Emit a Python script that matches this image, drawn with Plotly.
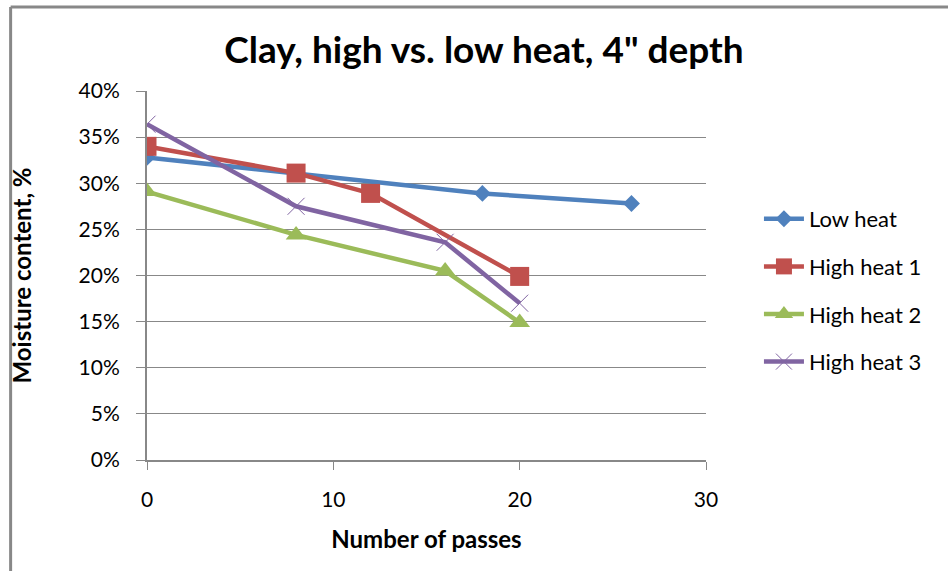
import plotly.graph_objects as go

# Data
low_x = [0, 18, 26]
low_y = [0.328, 0.289, 0.278]
h1_x = [0, 8, 12, 20]
h1_y = [0.340, 0.311, 0.289, 0.199]
h2_x = [0, 8, 16, 20]
h2_y = [0.291, 0.244, 0.205, 0.149]
h3_x = [0, 8, 16, 20]
h3_y = [0.364, 0.275, 0.236, 0.170]

names = ["Low heat", "High heat 1", "High heat 2", "High heat 3"]
colors = ["#4F81BD", "#C0504D", "#9BBB59", "#8064A2"]

FONT = "Lato, Liberation Sans, sans-serif"

fig = go.Figure()
series = [(low_x, low_y), (h1_x, h1_y), (h2_x, h2_y), (h3_x, h3_y)]
markers = [
    dict(symbol="diamond", size=13, color=colors[0]),
    dict(symbol="square", size=19, color=colors[1]),
    dict(symbol="triangle-up", size=18, color=colors[2]),
    dict(symbol="x-thin-open", size=17, color=colors[3], line=dict(color=colors[3], width=1)),
]
for i, ((xs, ys), nm) in enumerate(zip(series, names)):
    fig.add_trace(go.Scatter(
        x=xs, y=ys, name=nm, mode="lines+markers",
        line=dict(color=colors[i], width=4.5),
        marker=markers[i], legendgroup=nm,
    ))

L, R, T, B = 146.5, 948 - 706, 91, 571 - 460
pw, ph = 948 - L - R, 571 - T - B

def px(xp):
    return (xp - L) / pw

def py(yp):
    return (571 - B - yp) / ph

fig.update_layout(
    width=948, height=571,
    margin=dict(l=L, r=R, t=T, b=B),
    paper_bgcolor="white", plot_bgcolor="white",
    font=dict(family=FONT, color="black", size=21),
    title=dict(text="<b>Clay, high vs. low heat, 4\" depth</b>", x=484 / 948, xanchor="center",
               y=1 - 50 / 571, yanchor="middle", font=dict(size=37, family=FONT)),
    showlegend=True,
    legend=dict(x=px(759), y=py(198), xanchor="left", yanchor="top",
                font=dict(size=22, family=FONT), tracegroupgap=16,
                bgcolor="rgba(0,0,0,0)", itemwidth=40),
    xaxis=dict(range=[0, 30], tickvals=[0, 10, 20, 30], showgrid=False, zeroline=False,
               showline=True, linecolor="#888888", linewidth=2,
               ticks="outside", ticklen=8, tickcolor="#888888", tickwidth=1,
               ticklabelstandoff=12, tickfont=dict(size=21),
               title=dict(text="<b>Number of passes</b>", font=dict(size=24), standoff=21)),
    yaxis=dict(range=[0, 0.40], tickvals=[i * 0.05 for i in range(9)], tickformat=".0%",
               showgrid=True, gridcolor="#888888", gridwidth=1, zeroline=False,
               showline=True, linecolor="#888888", linewidth=2,
               ticks="outside", ticklen=9, tickcolor="#888888", tickwidth=1,
               ticklabelstandoff=12, tickfont=dict(size=21),
               title=dict(text="<b>Moisture content, %</b>", font=dict(size=24), standoff=40)),
    shapes=[
        dict(type="line", xref="paper", yref="paper", x0=px(10), x1=px(10), y0=py(7), y1=py(575),
             line=dict(color="#888888", width=3)),
        dict(type="line", xref="paper", yref="paper", x0=px(10), x1=px(952), y0=py(7), y1=py(7),
             line=dict(color="#888888", width=3)),
    ],
)

fig.write_html("out.html")
